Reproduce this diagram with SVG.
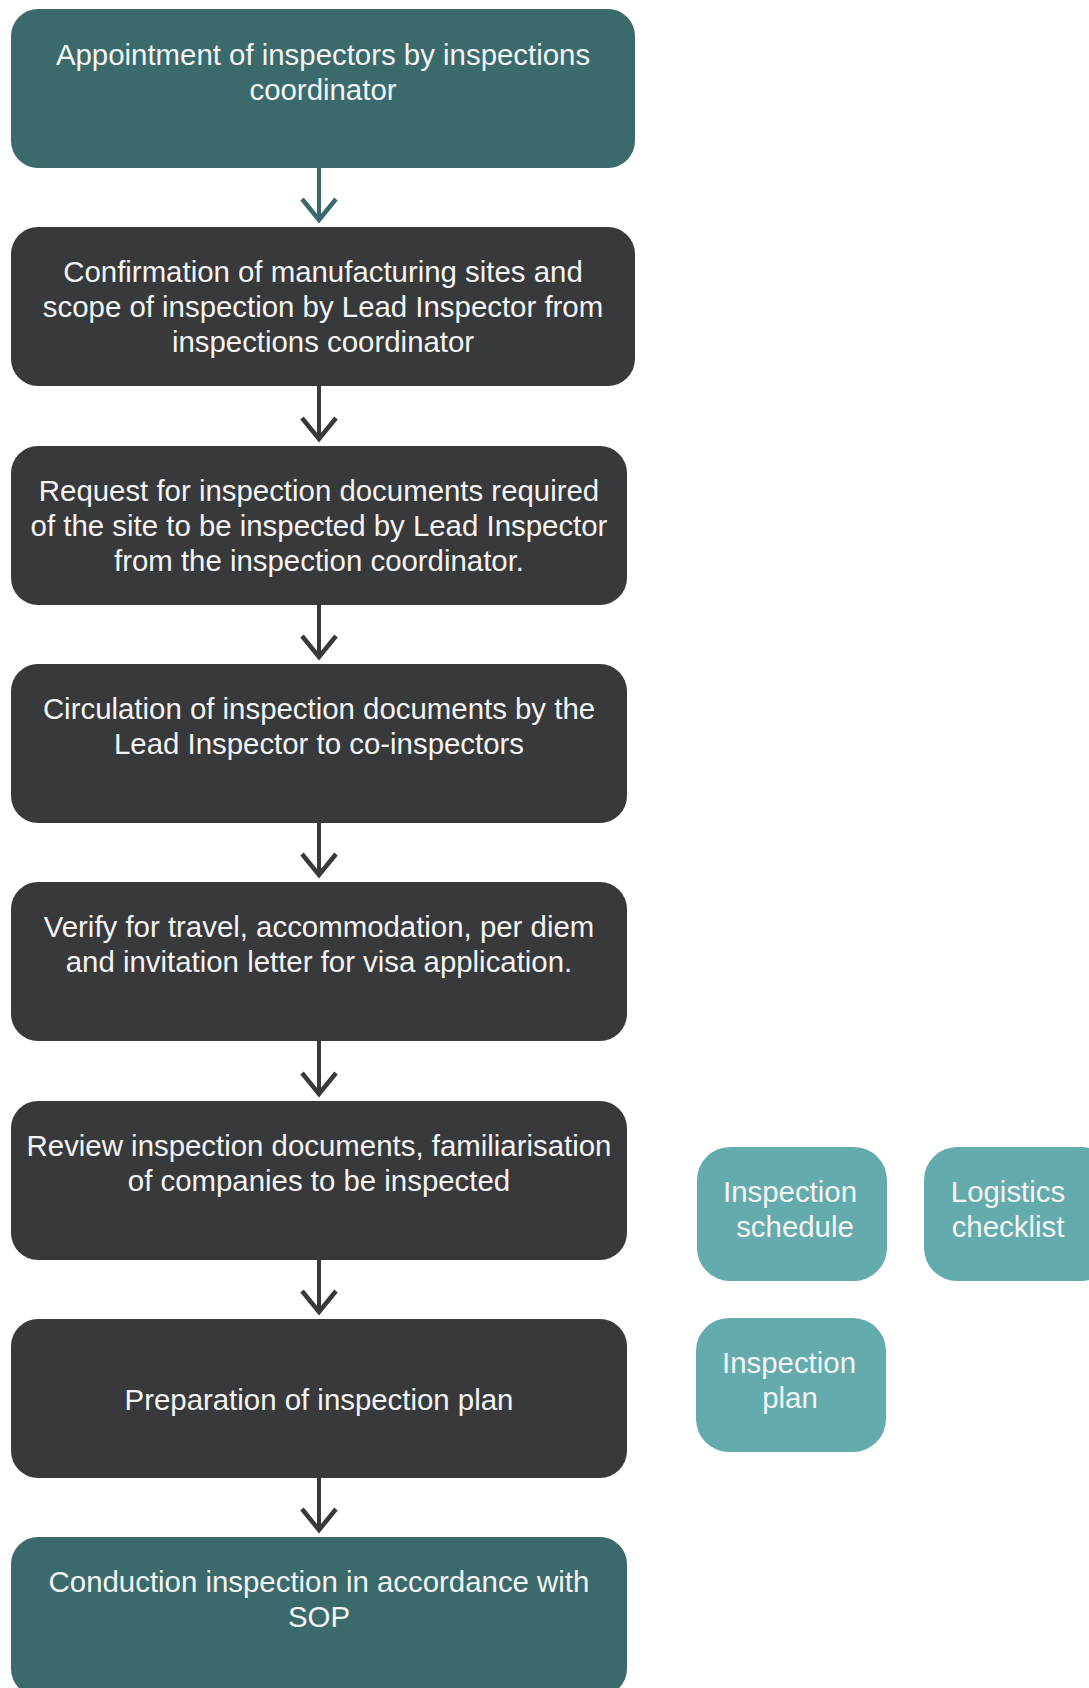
<svg xmlns="http://www.w3.org/2000/svg" width="1089" height="1688" viewBox="0 0 1089 1688">
<style>
.dark{fill:#38393B}
.teal{fill:#3A6A6B}
.light{fill:#64ABAD}
text{font-family:"Liberation Sans",Arial,sans-serif;font-size:29.4px;fill:#F4F4F4;text-anchor:middle}
.edge{fill:none;stroke-width:4}
.head{fill:none;stroke-width:4.5}
.ed{stroke:#38393B}
.et{stroke:#3A6A6B}
</style>
<rect width="1089" height="1688" fill="#FFFFFF"/>
<g id="connectors">
<path class="edge et" d="M319 168 V219"/>
<path class="head et" d="M302 199 L319 220 L336 199"/>
<path class="edge ed" d="M319 386 V438"/>
<path class="head ed" d="M302 418 L319 439 L336 418"/>
<path class="edge ed" d="M319 605 V656"/>
<path class="head ed" d="M302 636 L319 657 L336 636"/>
<path class="edge ed" d="M319 823 V874"/>
<path class="head ed" d="M302 854 L319 875 L336 854"/>
<path class="edge ed" d="M319 1041 V1093"/>
<path class="head ed" d="M302 1073 L319 1094 L336 1073"/>
<path class="edge ed" d="M319 1260 V1311"/>
<path class="head ed" d="M302 1291 L319 1312 L336 1291"/>
<path class="edge ed" d="M319 1478 V1529"/>
<path class="head ed" d="M302 1509 L319 1530 L336 1509"/>
</g>
<g id="n1">
<rect class="teal" x="11" y="9" width="624" height="159" rx="27"/>
<text x="323" y="65">Appointment of inspectors by inspections</text>
<text x="323" y="100">coordinator</text>
</g>
<g id="n2">
<rect class="dark" x="11" y="227" width="624" height="159" rx="27"/>
<text x="323" y="282">Confirmation of manufacturing sites and</text>
<text x="323" y="317">scope of inspection by Lead Inspector from</text>
<text x="323" y="352">inspections coordinator</text>
</g>
<g id="n3">
<rect class="dark" x="11" y="446" width="616" height="159" rx="27"/>
<text x="319" y="501">Request for inspection documents required</text>
<text x="319" y="536">of the site to be inspected by Lead Inspector</text>
<text x="319" y="571">from the inspection coordinator.</text>
</g>
<g id="n4">
<rect class="dark" x="11" y="664" width="616" height="159" rx="27"/>
<text x="319" y="719">Circulation of inspection documents by the</text>
<text x="319" y="754">Lead Inspector to co-inspectors</text>
</g>
<g id="n5">
<rect class="dark" x="11" y="882" width="616" height="159" rx="27"/>
<text x="319" y="937">Verify for travel, accommodation, per diem</text>
<text x="319" y="972">and invitation letter for visa application.</text>
</g>
<g id="n6">
<rect class="dark" x="11" y="1101" width="616" height="159" rx="27"/>
<text x="319" y="1156">Review inspection documents, familiarisation</text>
<text x="319" y="1191">of companies to be inspected</text>
</g>
<g id="n7">
<rect class="dark" x="11" y="1319" width="616" height="159" rx="27"/>
<text x="319" y="1410">Preparation of inspection plan</text>
</g>
<g id="n8">
<rect class="teal" x="11" y="1537" width="616" height="159" rx="27"/>
<text x="319" y="1592">Conduction inspection in accordance with</text>
<text x="319" y="1627">SOP</text>
</g>
<g id="n9">
<rect class="light" x="697" y="1147" width="190" height="134" rx="33"/>
<text x="790" y="1202">Inspection</text>
<text x="795" y="1237">schedule</text>
</g>
<g id="n10">
<rect class="light" x="924" y="1147" width="190" height="134" rx="33"/>
<text x="1008" y="1202">Logistics</text>
<text x="1008" y="1237">checklist</text>
</g>
<g id="n11">
<rect class="light" x="696" y="1318" width="190" height="134" rx="33"/>
<text x="789" y="1373">Inspection</text>
<text x="790" y="1408">plan</text>
</g>
</svg>
